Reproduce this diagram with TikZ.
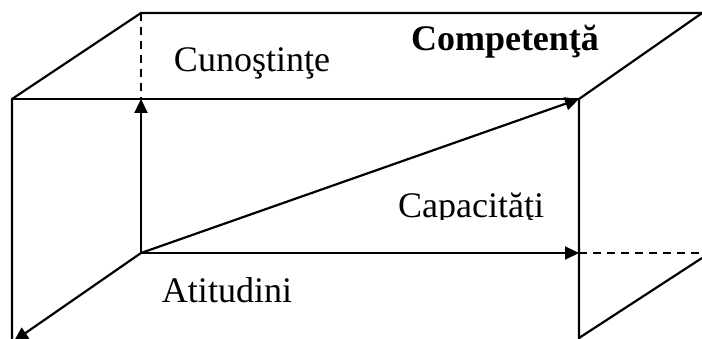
\documentclass[tikz,border=0pt]{standalone}
\usepackage{fontspec}
\setmainfont{Liberation Serif}
\usetikzlibrary{arrows.meta}
\begin{document}
\begin{tikzpicture}[x=1pt,y=-1pt,
  edge/.style={line width=2.2pt, line join=miter},
  dashedge/.style={line width=2.2pt, dash pattern=on 8pt off 6pt},
  axis/.style={line width=2.2pt, -{Triangle[length=14pt,width=13pt]}},
  lbl/.style={font=\fontsize{36}{40}\selectfont, anchor=base, inner sep=0pt}]
\useasboundingbox (0,0) rectangle (702,339);
\coordinate (A) at (12,99);
\coordinate (B) at (579,99);
\coordinate (C) at (141,13);
\coordinate (D) at (705,13);
\coordinate (Dr) at (705,11);
\coordinate (O) at (141,253);
\coordinate (E) at (579,253);
\coordinate (F) at (702,253);
\coordinate (G) at (579,338);
\coordinate (H) at (702,258);
\coordinate (Abot) at (12,345);
\coordinate (Bbot) at (579,345);
\coordinate (T) at (14,341);
% box edges
\draw[edge] (Abot) -- (A) -- (C) -- (D);
\draw[edge] (A) -- (B);
\draw[edge] (Bbot) -- (B) -- (Dr);
\draw[edge] (G) -- (H);
\draw[dashedge] (C) -- (141,99);
\draw[dashedge] (E) -- (F);
% axes
\draw[axis] (O) -- (141,99);
\draw[axis] (O) -- (B);
\draw[axis] (O) -- (E);
\draw[axis] (O) -- (T);
% labels
\node[lbl] (cun) at (252,72) {Cunoştinţe};
\node[lbl, font=\fontsize{36}{40}\selectfont\bfseries] (comp) at (505,51) {Competenţă};
\begin{scope}
\clip (380,150) rectangle (575,220);
\node[lbl] (cap) at (471,218) {Capacităţi};
\end{scope}
\node[lbl] (att) at (227,303) {Atitudini};
\end{tikzpicture}
\end{document}
